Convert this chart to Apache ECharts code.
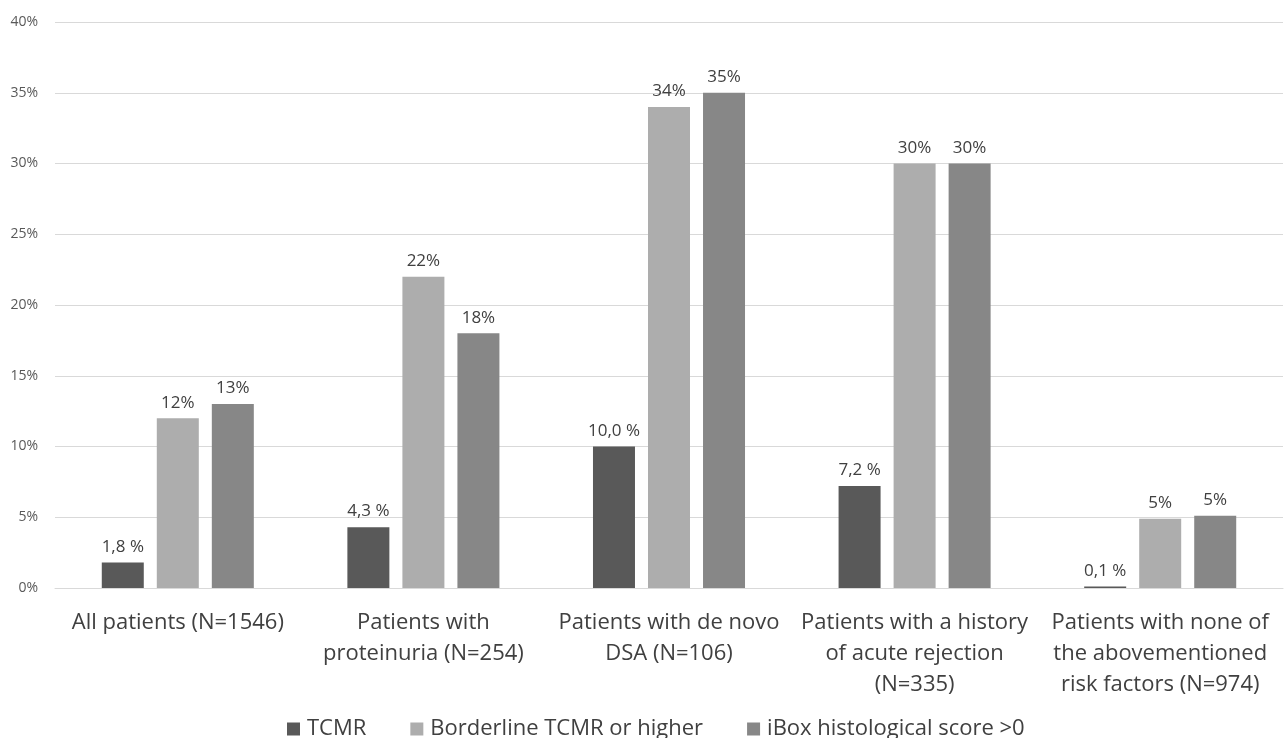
<!DOCTYPE html>
<html><head><meta charset="utf-8">
<script src="https://cdn.jsdelivr.net/npm/echarts@6/dist/echarts.min.js"></script>
<style>html,body{margin:0;padding:0;background:#fff}#c{width:1286px;height:738px}</style>
</head><body><div id="c"></div>
<script>
const categories = [
  "All patients (N=1546)",
  "Patients with\nproteinuria (N=254)",
  "Patients with de novo\nDSA (N=106)",
  "Patients with a history\nof acute rejection\n(N=335)",
  "Patients with none of\nthe abovementioned\nrisk factors (N=974)"
];
const seriesNames = ["TCMR", "Borderline TCMR or higher", "iBox histological score >0"];
const tcmr = [1.8, 4.3, 10.0, 7.2, 0.1];
const borderline = [12, 22, 34, 30, 4.9];
const ibox = [13, 18, 35, 30, 5.1];
const yTicks = [0, 5, 10, 15, 20, 25, 30, 35, 40];

const colors = ["#595959", "#adadad", "#878787"];
const font = "'Open Sans', 'Noto Sans', sans-serif";
const chart = echarts.init(document.getElementById('c'));
function mk(name, data, color, fmt) {
  return {
    name, type: 'bar', data, barWidth: 42, barGap: '31%',
    itemStyle: { color },
    label: { show: true, position: 'top', distance: 7, color: '#404040', fontSize: 17, fontFamily: font, formatter: fmt }
  };
}
chart.setOption({
  animation: false,
  grid: { left: 55, right: 3, top: 22, bottom: 150, containLabel: false },
  legend: {
    top: 713, left: 282, itemWidth: 13, itemHeight: 13, itemGap: 44, icon: 'rect',
    textStyle: { fontSize: 22, color: '#404040', fontFamily: font, padding: [0, 0, 0, 2] },
    data: seriesNames
  },
  xAxis: {
    type: 'category', data: categories,
    axisLine: { lineStyle: { color: '#d9d9d9' } }, axisTick: { show: false },
    axisLabel: { fontSize: 22, color: '#404040', fontFamily: font, lineHeight: 31, margin: 19, interval: 0 }
  },
  yAxis: {
    type: 'value', min: yTicks[0], max: yTicks[yTicks.length - 1], interval: 5,
    axisLine: { show: false }, axisTick: { show: false },
    splitLine: { lineStyle: { color: '#d9d9d9', width: 1 } },
    axisLabel: { fontSize: 14, color: '#595959', fontFamily: font, margin: 17, formatter: v => v + '%' }
  },
  series: [
    mk(seriesNames[0], tcmr, colors[0], p => p.value.toFixed(1).replace('.', ',') + ' %'),
    mk(seriesNames[1], borderline, colors[1], p => Math.round(p.value) + '%'),
    mk(seriesNames[2], ibox, colors[2], p => Math.round(p.value) + '%')
  ]
});
</script></body></html>
